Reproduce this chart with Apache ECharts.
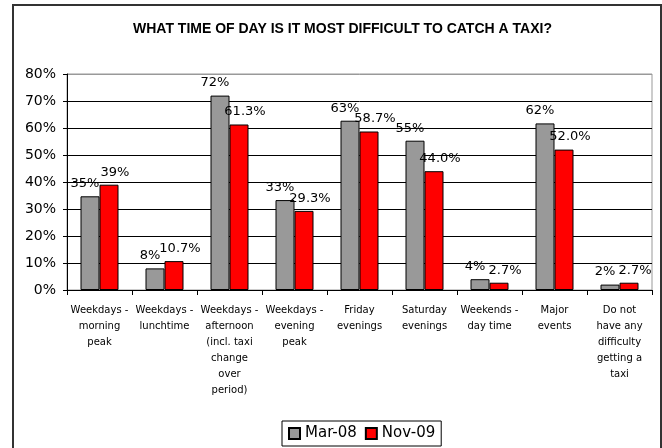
<!DOCTYPE html>
<html>
<head>
<meta charset="utf-8">
<script src="https://cdn.jsdelivr.net/npm/echarts@6/dist/echarts.min.js"></script>
<style>
html,body{margin:0;padding:0;background:#fff;}
#wrap{position:relative;width:662px;height:448px;overflow:hidden;}
#frame{position:absolute;left:12px;top:4px;width:646px;height:470px;border:2px solid #333;}
#chart{position:absolute;left:0;top:0;width:662px;height:448px;}
</style>
</head>
<body>
<div id="wrap"><div id="frame"></div><div id="chart"></div></div>
<script>
var categories = [
  "Weekdays -\nmorning\npeak",
  "Weekdays -\nlunchtime",
  "Weekdays -\nafternoon\n(incl. taxi\nchange\nover\nperiod)",
  "Weekdays -\nevening\npeak",
  "Friday\nevenings",
  "Saturday\nevenings",
  "Weekends -\nday time",
  "Major\nevents",
  "Do not\nhave any\ndifficulty\ngetting a\ntaxi"
];
var mar08 = [34.7, 8, 72, 33.3, 62.7, 55.3, 4, 61.7, 2];
var nov09 = [39, 10.7, 61.3, 29.3, 58.7, 44.0, 2.7, 52.0, 2.7];
var mar08Labels = ["35%", "8%", "72%", "33%", "63%", "55%", "4%", "62%", "2%"];
var nov09Labels = ["39%", "10.7%", "61.3%", "29.3%", "58.7%", "44.0%", "2.7%", "52.0%", "2.7%"];
var seriesNames = ["Mar-08", "Nov-09"];
var titleText = "WHAT TIME OF DAY IS IT MOST DIFFICULT TO CATCH A TAXI?";

var FONT = "DejaVu Sans";
var chart = echarts.init(document.getElementById('chart'));
chart.setOption({
  animation: false,
  title: {
    text: titleText,
    left: 128, top: 17,
    textStyle: {fontFamily: "Liberation Sans Narrow, Liberation Sans", fontWeight: 'bold', fontSize: 14, color: '#000'}
  },
  legend: {
    bottom: 2, left: 282,
    data: seriesNames,
    itemWidth: 11, itemHeight: 11, itemGap: 8,
    borderColor: '#000', borderWidth: 1, padding: [5, 6, 5, 6],
    textStyle: {fontFamily: FONT, fontSize: 15, color: '#000'},
    icon: 'rect'
  },
  grid: {left: 67, right: 10, top: 74, bottom: 158, show: true, borderColor: '#999', borderWidth: 1},
  xAxis: {
    type: 'category',
    data: categories,
    axisLine: {lineStyle: {color: '#000', width: 1}},
    axisTick: {show: true, length: 5, lineStyle: {color: '#000'}},
    axisLabel: {interval: 0, fontFamily: FONT, fontSize: 10, lineHeight: 16, color: '#000', margin: 12}
  },
  yAxis: {
    type: 'value', min: 0, max: 80, interval: 10,
    axisLine: {show: true, lineStyle: {color: '#000'}},
    axisTick: {show: true, length: 4, lineStyle: {color: '#000'}},
    axisLabel: {formatter: '{value}%', fontFamily: FONT, fontSize: 14, color: '#000', margin: 11},
    splitLine: {lineStyle: {color: ['#000','#000','#000','#000','#000','#000','#000','#000','#999'], width: 1}}
  },
  series: [
    {
      name: seriesNames[0], type: 'bar', data: mar08, barWidth: 19, barGap: '0%',
      itemStyle: {color: '#999999', borderColor: '#000', borderWidth: 1},
      label: {show: true, position: 'top', distance: 6, offset: [-5, 0], fontFamily: FONT, fontSize: 13, color: '#000',
        formatter: function(p){ return mar08Labels[p.dataIndex]; }}
    },
    {
      name: seriesNames[1], type: 'bar', data: nov09, barWidth: 19,
      itemStyle: {color: '#ff0000', borderColor: '#000', borderWidth: 1},
      label: {show: true, position: 'top', distance: 6, offset: [6, 0], fontFamily: FONT, fontSize: 13, color: '#000',
        formatter: function(p){ return nov09Labels[p.dataIndex]; }}
    }
  ]
});
</script>
</body>
</html>
